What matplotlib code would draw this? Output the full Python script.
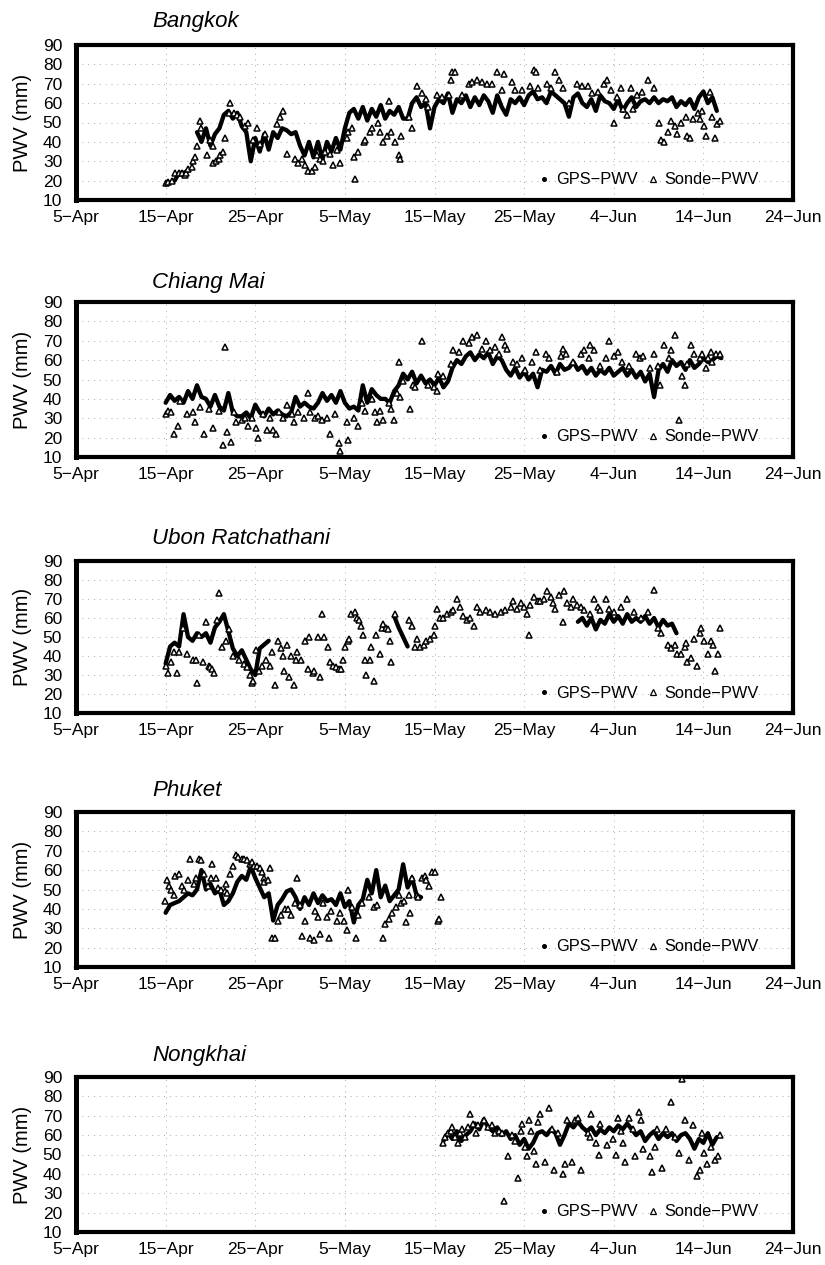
import numpy as np
import matplotlib
matplotlib.use("Agg")
import matplotlib.pyplot as plt
from matplotlib.lines import Line2D

plt.rcParams['font.family'] = ['Liberation Sans', 'DejaVu Sans']

# ---------------- axis definitions ----------------
x_tick_days = [0, 10, 20, 30, 40, 50, 60, 70, 80]          # days after 5-Apr
x_tick_labels = ['5\u2212Apr', '15\u2212Apr', '25\u2212Apr', '5\u2212May', '15\u2212May',
                 '25\u2212May', '4\u2212Jun', '14\u2212Jun', '24\u2212Jun']
y_ticks = [10, 20, 30, 40, 50, 60, 70, 80, 90]
station_names = ['Bangkok', 'Chiang Mai', 'Ubon Ratchathani', 'Phuket', 'Nongkhai']
legend_labels = ['GPS\u2212PWV', 'Sonde\u2212PWV']
gps_step = 0.5  # days between GPS samples

nan = np.nan
# ---------------- Bangkok ----------------
bkk_gps_start = 10.0
bkk_gps = [18, 19, 20, 24, 24, 25, nan, 45, 40, 47,
           38, 44, 47, 54, 56, 52, 55, 48, 45, 30,
           42, 35, 44, 36, 45, 42, 47, 46, 44, 45,
           38, 33, 40, 32, 40, 31, 40, 35, 42, 36,
           47, 55, 57, 52, 58, 51, 57, 53, 59, 52,
           56, 54, 58, 52, 52, 60, 63, 58, 60, 47,
           58, 62, 60, 65, 55, 62, 60, 64, 58, 63,
           59, 64, 61, 55, 64, 58, 54, 62, 60, 63,
           59, 64, 66, 62, 63, 60, 66, 64, 62, 60,
           53, 63, 65, 60, 58, 62, 56, 64, 61, 60,
           57, 62, 56, 60, 63, 58, 61, 62, 60, 63,
           60, 62, 61, 63, 58, 61, 59, 62, 57, 63,
           66, 60, 63, 56]
bkk_sonde_day = [10, 10.3, 10.7, 11.1, 11.5, 11.8, 12.2, 12.3, 12.5, 12.9, 13.1, 13.3, 13.5, 13.8, 14,
                 14.6, 15, 15.3, 15.3, 15.6, 15.9, 16.1, 16.4, 16.6, 17.1, 17.2, 17.6, 18, 18.3, 18.9,
                 19.2, 19.8, 20.2, 20.5, 21.1, 22.4, 22.8, 23.1, 23.5, 24.4, 24.8, 25.2, 25.6, 25.9,
                 26.3, 26.7, 26.9, 27.2, 27.6, 27.8, 28.3, 28.7, 29.1, 29.5, 30.2, 30.4, 30.8, 31,
                 31.1, 31.5, 32.1, 32.3, 32.8, 33, 33.7, 33.9, 34.3, 34.7, 34.9, 35.2, 35.6, 36, 36.2,
                 36.3, 37.1, 37.5, 38, 38.6, 39, 39.3, 40.3, 40.8, 41.6, 41.8, 41.9, 42.3, 43.1, 43.8,
                 44.2, 44.7, 45.3, 45.9, 46.4, 47, 47.5, 47.7, 48.7, 49, 49.8, 50.7, 51.1, 51.3, 51.5,
                 52.6, 53, 53.5, 53.9, 54.3, 55, 55.9, 56.5, 57.1, 57.6, 58.2, 58.9, 59.3, 59.7, 60,
                 60.4, 60.8, 61, 61.5, 61.9, 62.1, 62.6, 63.2, 63.8, 64.5, 65.1, 65.3, 65.6, 66, 66.4,
                 66.8, 67.1, 67.5, 68.1, 68.2, 68.5, 68.8, 69.4, 69.6, 69.9, 70.1, 70.3, 70.7, 71,
                 71.3, 71.5, 71.8]
bkk_sonde_pwv = [19, 19.5, 20, 24, 24, 24, 23, 24, 26, 27, 30, 32, 38, 51, 47,
                 33, 41, 38, 29, 30, 31, 33, 35, 42, 55, 60, 55, 54, 53, 48,
                 50, 41, 47, 39, 44, 49, 53, 56, 34, 31, 29, 31, 28, 25,
                 25, 27, 33, 31, 30, 35, 34, 28, 36, 29, 42, 45, 47, 32,
                 21, 35, 40, 41, 45, 47, 50, 45, 40, 43, 61, 45, 40, 33, 31,
                 43, 53, 47, 69, 65, 62, 58, 64, 63, 64, 72, 76, 76, 64, 70,
                 71, 72, 71, 70, 70, 76, 67, 75, 71, 67, 67, 69, 77, 76, 68,
                 70, 68, 76, 72, 68, 60, 70, 69, 69, 65, 66, 70, 72, 67, 50,
                 63, 68, 57, 54, 68, 57, 64, 66, 72, 68, 50, 41, 40, 45, 51,
                 48, 44, 50, 53, 43, 42, 52, 55, 52, 56, 48, 43, 66, 53,
                 42, 49, 51]

# ---------------- Chiang Mai ----------------
cm_gps_start = 10.0
cm_gps = [38, 42, 39, 41, 38, 44, 40, 47, 41, 40,
          36, 42, 36, 34, 43, 33, 31, 31, 33, 30,
          37, 33, 31, 35, 32, 34, 32, 31, 33, 41,
          36, 38, 36, 35, 38, 43, 39, 42, 38, 44,
          38, 35, 36, 34, 47, 38, 45, 42, 40, 40,
          38, 44, 47, 53, 50, 54, 48, 52, 48, 50,
          47, 51, 46, 49, 56, 60, 58, 62, 64, 60,
          63, 61, 64, 58, 62, 60, 55, 52, 56, 51,
          54, 50, 53, 46, 55, 54, 57, 53, 58, 55,
          56, 59, 55, 57, 53, 56, 52, 55, 53, 56,
          52, 54, 56, 52, 55, 51, 54, 49, 53, 41,
          55, 58, 54, 60, 57, 59, 55, 60, 56, 58,
          61, 59, 60, 62, 61]
cm_sonde_day = [10.0, 10.3, 10.6, 10.9, 11.4, 11.6, 12.4, 13.1, 13.3, 13.8, 14.3, 14.8, 15.3, 15.9,
                16.4, 16.6, 16.8, 17.3, 17.6, 17.9, 18.5, 18.9, 19.2, 19.6, 20.1, 20.3, 20.9, 21.3,
                21.7, 22.0, 22.3, 22.6, 23.1, 23.5, 24.1, 24.3, 24.8, 25.4, 25.9, 26.1, 26.7, 27.0,
                27.4, 28.0, 28.3, 28.9, 29.3, 29.5, 30.2, 30.4, 31.0, 31.5, 31.9, 32.3, 33.0, 33.4,
                33.6, 33.9, 34.3, 34.9, 35.2, 35.5, 35.8, 36.0, 36.2, 36.5, 37.3, 37.6, 37.8, 38.6,
                39.3, 39.9, 40.3, 40.4, 41.0, 41.8, 42.1, 42.7, 43.2, 43.8, 44.2, 44.7, 45.3, 45.7,
                46.2, 46.8, 47.2, 47.5, 47.9, 48.1, 48.8, 49.2, 49.8, 50.1, 50.9, 51.3, 51.8, 52.4,
                52.8, 53.7, 54.1, 54.3, 54.7, 55.4, 56.3, 56.7, 57.2, 57.4, 57.8, 58.5, 59.1, 59.5,
                60.0, 60.5, 60.9, 61.7, 62.5, 62.9, 63.3, 64.0, 64.5, 64.9, 65.2, 65.6, 66.2, 66.4,
                66.8, 67.3, 67.6, 67.9, 68.2, 68.6, 69.0, 69.6, 69.9, 70.3, 70.5, 70.9, 71.0, 71.4,
                71.9]
cm_sonde_pwv = [32, 34, 33, 22, 26, 39, 32, 33, 28, 36, 22, 35, 25, 34,
                16, 67, 23, 18, 33, 28, 29, 30, 26, 30, 25, 20, 32, 24,
                30, 24, 22, 33, 30, 37, 32, 28, 33, 30, 43, 33, 30, 31,
                29, 30, 22, 32, 17, 13, 28, 19, 30, 26, 38, 34, 40, 33,
                28, 34, 29, 38, 35, 29, 43, 59, 41, 49, 35, 47, 46, 70,
                47, 46, 44, 53, 52, 58, 65, 64, 70, 69, 72, 73, 66, 70,
                65, 67, 63, 72, 68, 66, 59, 58, 61, 55, 59, 64, 55, 63,
                61, 54, 62, 66, 63, 59, 63, 65, 61, 68, 65, 57, 61, 70,
                62, 64, 59, 57, 63, 61, 62, 56, 63, 57, 47, 68, 61, 65,
                73, 29, 52, 47, 58, 68, 63, 61, 63, 56, 61, 64, 59, 63,
                63]

# ---------------- Ubon Ratchathani ----------------
ubn_gps_a_start = 10.0
ubn_gps_a = [36, 45, 47, 45, 62, 50, 48, 52, 50, 52, 47, 55, 58, 62, 53, 44, 40, 43, 38, 33,
             30, 44, 46, 48]
ubn_gps_b_start = 35.5
ubn_gps_b = [61, 55, 50, 45]
ubn_gps_c_start = 56.0
ubn_gps_c = [58, 60, 56, 60, 54, 59, 57, 62, 58, 61, 57, 62, 58, 60, 58, 61, 57, 60, 55, 59,
             56, 57, 52]
ubn_sonde_day = [10.0, 10.3, 10.6, 10.9, 11.3, 11.5, 11.9, 12.4, 13.0, 13.4, 13.5, 13.7, 14.2, 14.5,
                 14.8, 15.0, 15.2, 15.4, 15.7, 16.0, 16.3, 16.7, 17.1, 17.5, 18.2, 18.8, 19.1, 19.4,
                 19.6, 19.8, 20.1, 20.4, 20.8, 21.2, 21.6, 21.9, 22.2, 22.5, 22.9, 23.1, 23.2, 23.5,
                 23.8, 24.0, 24.3, 24.6, 24.7, 25.1, 25.5, 25.9, 26.0, 26.4, 26.6, 27.0, 27.2, 27.5,
                 27.7, 28.1, 28.3, 28.7, 29.0, 29.3, 29.6, 29.8, 30.0, 30.3, 30.5, 30.7, 31.1, 31.3,
                 31.6, 31.8, 32.0, 32.2, 32.4, 32.8, 32.9, 33.3, 33.5, 33.9, 34.1, 34.3, 34.6, 34.8,
                 35.0, 35.2, 35.6, 37.2, 37.5, 37.8, 38.0, 38.4, 38.8, 39.1, 39.5, 39.9, 40.1, 40.3,
                 40.6, 41.0, 41.4, 41.8, 42.1, 42.5, 42.9, 43.2, 43.6, 44.0, 44.4, 44.7, 45.1, 45.7,
                 46.2, 46.8, 47.4, 47.9, 48.5, 48.8, 49.2, 49.6, 50.0, 50.3, 50.5, 50.7, 51.1, 51.5,
                 51.8, 52.2, 52.6, 53.0, 53.2, 53.5, 53.9, 54.3, 54.4, 54.8, 55.2, 55.5, 55.9, 56.3,
                 56.7, 57.3, 57.8, 58.2, 58.5, 59.1, 59.5, 60.0, 60.8, 61.5, 62.3, 63.0, 63.8, 64.5,
                 64.9, 65.3, 66.0, 66.4, 66.8, 67.1, 67.5, 67.9, 68.1, 68.2, 68.6, 69.0, 69.3, 69.6,
                 69.7, 70.1, 70.5, 70.8, 71.1, 71.3, 71.6, 71.8]
ubn_sonde_pwv = [35, 31, 37, 42, 31, 42, 55, 41, 38, 38, 26, 51, 37, 58,
                 35, 34, 33, 31, 59, 73, 45, 48, 54, 40, 38, 36, 34, 30,
                 26, 27, 43, 32, 35, 38, 35, 42, 25, 48, 44, 40, 32, 46,
                 29, 40, 25, 38, 42, 38, 48, 33, 50, 31, 32, 50, 29, 62,
                 50, 45, 37, 35, 34, 33, 33, 38, 45, 48, 49, 62, 63, 60,
                 59, 56, 51, 38, 30, 38, 45, 27, 51, 41, 55, 57, 55, 54,
                 48, 37, 62, 59, 56, 45, 49, 45, 46, 48, 49, 51, 56, 65,
                 60, 60, 62, 63, 64, 70, 66, 61, 59, 60, 56, 66, 63, 64,
                 63, 62, 63, 64, 66, 69, 65, 68, 66, 62, 51, 67, 71, 69,
                 69, 70, 74, 71, 68, 65, 72, 58, 74, 68, 66, 70, 67, 66,
                 64, 62, 70, 66, 64, 70, 65, 63, 66, 70, 63, 60, 63, 75,
                 55, 52, 46, 44, 46, 41, 41, 45, 47, 37, 39, 49, 35, 52,
                 55, 48, 41, 48, 46, 32, 41, 55]

# ---------------- Phuket ----------------
phk_gps_start = 10.0
phk_gps = [38, 42, 43, 44, 46, 48, 47, 50, 60, 50,
           53, 48, 50, 42, 44, 48, 54, 57, 55, 62,
           56, 51, 46, 48, 34, 42, 45, 49, 50, 46,
           40, 46, 42, 48, 43, 47, 44, 45, 42, 48,
           41, 44, 33, 42, 45, 55, 48, 60, 46, 52,
           44, 47, 50, 63, 51, 56, 47, 46]
phk_sonde_day = [9.9, 10.2, 10.4, 10.6, 10.9, 11.1, 11.5, 11.8, 12.1, 12.5, 12.7, 13.2, 13.4, 13.7,
                 13.9, 14.3, 14.7, 15.1, 15.2, 15.6, 15.8, 16.2, 16.6, 16.7, 16.9, 17.2, 17.5, 17.9,
                 18.1, 18.5, 18.8, 19.1, 19.4, 19.6, 19.9, 20.2, 20.5, 20.7, 21.0, 21.0, 21.4, 21.7,
                 21.9, 22.2, 22.5, 22.9, 23.3, 23.7, 24.0, 24.4, 24.7, 25.0, 25.2, 25.5, 26.1, 26.5,
                 26.7, 27.0, 27.2, 27.6, 28.0, 28.2, 28.5, 29.1, 29.5, 29.9, 30.2, 30.4, 30.8, 31.2,
                 31.5, 31.9, 32.7, 33.2, 33.6, 34.2, 34.5, 34.9, 35.3, 35.7, 36.0, 36.3, 36.6, 36.8,
                 37.1, 37.3, 37.5, 38.0, 38.2, 38.6, 38.9, 39.1, 39.4, 39.7, 40.0, 40.4, 40.5, 40.7]
phk_sonde_pwv = [44, 55, 52, 50, 47, 57, 58, 52, 50, 55, 66, 53, 56, 66,
                 65, 58, 52, 56, 63, 56, 51, 50, 49, 53, 48, 58, 62, 68,
                 67, 66, 66, 65, 63, 64, 62, 62, 61, 59, 56, 54, 55, 61,
                 25, 25, 34, 37, 40, 40, 37, 43, 56, 42, 26, 34, 25, 24,
                 39, 36, 27, 43, 36, 25, 39, 34, 38, 34, 29, 50, 41, 25,
                 37, 43, 46, 41, 42, 25, 32, 35, 38, 41, 47, 43, 44, 33,
                 47, 38, 56, 47, 46, 56, 57, 55, 52, 59, 59, 34, 35, 46]

# ---------------- Nongkhai ----------------
nkh_gps_start = 41.0
nkh_gps = [57, 61, 58, 62, 57, 60, 62, 66, 63, 68,
           64, 62, 64, 60, 62, 58, 60, 55, 58, 53,
           56, 61, 62, 60, 63, 61, 55, 60, 66, 64,
           67, 64, 62, 64, 60, 63, 61, 64, 62, 65,
           63, 66, 63, 60, 62, 57, 60, 62, 58, 61,
           59, 61, 57, 60, 61, 58, 53, 58, 56, 61,
           55, 59]
nkh_sonde_day = [41.0, 41.2, 41.5, 41.8, 42.0, 42.3, 42.6, 42.9, 43.1, 43.4, 43.7, 44.0, 44.3, 44.6,
                 44.9, 45.5, 46.0, 46.4, 46.8, 47.2, 47.5, 47.8, 48.2, 48.7, 49.0, 49.3, 49.6, 49.8,
                 50.1, 50.3, 50.5, 50.8, 51.1, 51.3, 51.6, 51.8, 52.3, 52.8, 53.1, 53.3, 53.8, 54.3,
                 54.6, 54.8, 55.3, 55.7, 56.0, 56.3, 57.1, 57.3, 57.5, 58.0, 58.3, 58.5, 59.3, 59.9,
                 60.3, 60.5, 60.8, 61.0, 61.3, 61.7, 62.1, 62.4, 62.8, 63.0, 63.3, 64.0, 64.3, 64.6,
                 64.8, 65.4, 65.8, 66.4, 66.8, 67.3, 67.6, 67.9, 68.4, 68.8, 69.3, 69.6, 69.9, 70.1,
                 70.4, 70.9, 71.3, 71.6, 71.9]
nkh_sonde_pwv = [56, 59, 61, 62, 64, 59, 56, 61, 63, 59, 64, 71, 66, 61,
                 65, 68, 64, 65, 61, 62, 61, 26, 49, 60, 57, 38, 62, 66,
                 54, 49, 68, 62, 52, 45, 67, 71, 46, 74, 63, 42, 61, 40,
                 45, 68, 46, 68, 69, 42, 61, 59, 71, 56, 50, 66, 55, 58,
                 50, 69, 62, 56, 46, 69, 63, 49, 72, 68, 53, 49, 41, 54,
                 63, 43, 63, 77, 59, 51, 89, 68, 47, 65, 39, 42, 61, 51,
                 45, 54, 47, 49, 60]

gps_segments = [
    [(bkk_gps_start, bkk_gps)],
    [(cm_gps_start, cm_gps)],
    [(ubn_gps_a_start, ubn_gps_a), (ubn_gps_b_start, ubn_gps_b), (ubn_gps_c_start, ubn_gps_c)],
    [(phk_gps_start, phk_gps)],
    [(nkh_gps_start, nkh_gps)],
]
sonde_data = [
    (bkk_sonde_day, bkk_sonde_pwv),
    (cm_sonde_day, cm_sonde_pwv),
    (ubn_sonde_day, ubn_sonde_pwv),
    (phk_sonde_day, phk_sonde_pwv),
    (nkh_sonde_day, nkh_sonde_pwv),
]

# ---------------- layout (pixels) ----------------
W, H = 825, 1265
ax_left, ax_right = 76, 793
panel_px = [(45, 200), (302, 457), (561, 713), (812, 967), (1077, 1232)]
title_y = [22, 282, 538, 790, 1055]
title_x = 152

fig = plt.figure(figsize=(W / 100, H / 100), dpi=100)

for i in range(5):
    top, bot = panel_px[i]
    ax = fig.add_axes([ax_left / W, 1 - bot / H, (ax_right - ax_left) / W, (bot - top) / H])
    ax.set_xlim(0, 80)
    ax.set_ylim(10, 90)
    ax.set_xticks(x_tick_days)
    ax.set_xticklabels(x_tick_labels, fontsize=12.5)
    ax.set_yticks(y_ticks)
    ax.set_yticklabels([str(v) for v in y_ticks], fontsize=12.5)
    ax.tick_params(axis='both', length=0)
    ax.tick_params(axis='y', pad=10)
    ax.tick_params(axis='x', pad=7)
    ax.grid(True, color='#a8a8a8', linestyle=(0, (1, 5)), linewidth=0.7)
    ax.set_axisbelow(True)
    for s in ax.spines.values():
        s.set_linewidth(3.0)
        s.set_color('black')
    ax.spines['left'].set_linewidth(3.6)

    for start, vals in gps_segments[i]:
        v = np.asarray(vals, dtype=float)
        x = start + gps_step * np.arange(len(v))
        ax.plot(x, v, color='black', linewidth=3.1, solid_joinstyle='round',
                solid_capstyle='round', zorder=3)
    sd, sv = sonde_data[i]
    ax.plot(sd, sv, linestyle='none', marker='^', markersize=5.0, markerfacecolor='white',
            markeredgecolor='black', markeredgewidth=1.1, zorder=4)

    handles = [Line2D([], [], linestyle='none', marker='o', markersize=2.6, color='black'),
               Line2D([], [], linestyle='none', marker='^', markersize=4.2,
                      markerfacecolor='white', markeredgecolor='black', markeredgewidth=0.9)]
    ax.legend(handles, legend_labels, ncol=2, loc='center left', bbox_to_anchor=(0.645, 0.13),
              frameon=False, fontsize=11.8, handlelength=0.7, handletextpad=0.35,
              columnspacing=0.6, borderaxespad=0, borderpad=0)

    fig.text(title_x / W, 1 - title_y[i] / H, station_names[i], fontsize=16, style='italic',
             ha='left', va='center')
    fig.text(23 / W, 1 - ((top + bot) / 2) / H, 'PWV (mm)', fontsize=14.5, rotation=90,
             ha='center', va='center')

fig.savefig('out.png', dpi=100, facecolor='white')
